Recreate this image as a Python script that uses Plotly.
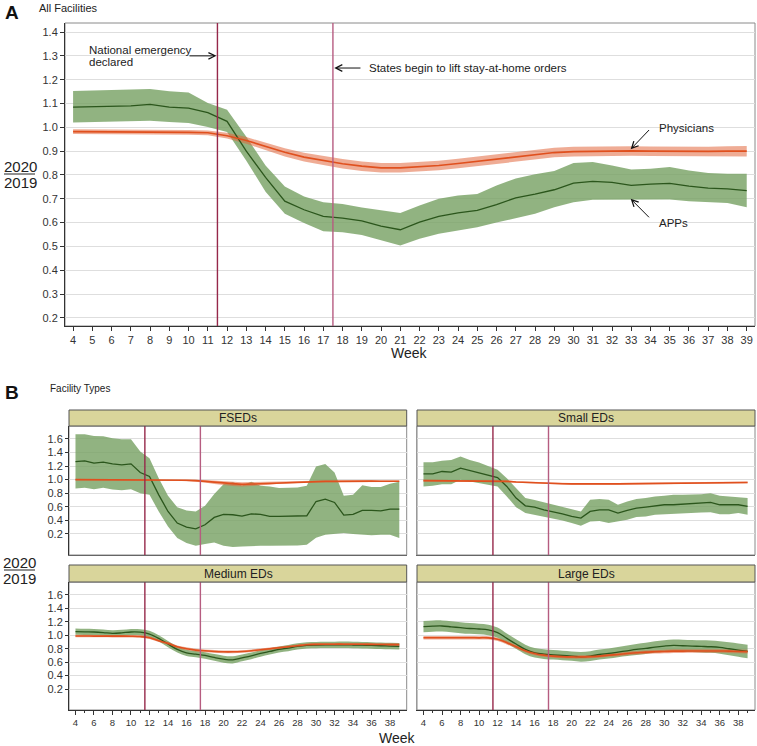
import plotly.graph_objects as go

weeks = list(range(4, 40))

# ---------- Panel A : All facilities ----------
all_apps_mid = [1.085, 1.087, 1.09, 1.09, 1.096, 1.085, 1.081, 1.062, 1.025, 0.90, 0.79, 0.69,
                0.654, 0.626, 0.619, 0.607, 0.585, 0.57, 0.602, 0.626, 0.641, 0.651, 0.676, 0.704,
                0.72, 0.738, 0.766, 0.773, 0.769, 0.756, 0.762, 0.765, 0.753, 0.745, 0.742, 0.734]
all_apps_hi = [1.153, 1.155, 1.157, 1.158, 1.161, 1.152, 1.146, 1.102, 1.074, 0.96, 0.84, 0.752,
               0.71, 0.686, 0.678, 0.663, 0.651, 0.64, 0.672, 0.70, 0.714, 0.72, 0.756, 0.785,
               0.803, 0.817, 0.85, 0.854, 0.84, 0.823, 0.826, 0.833, 0.819, 0.808, 0.805, 0.805]
all_apps_lo = [1.02, 1.022, 1.025, 1.025, 1.028, 1.022, 1.018, 1.001, 0.98, 0.86, 0.73, 0.637,
               0.598, 0.564, 0.56, 0.548, 0.525, 0.504, 0.532, 0.553, 0.567, 0.581, 0.60, 0.62,
               0.637, 0.665, 0.686, 0.696, 0.697, 0.697, 0.696, 0.697, 0.69, 0.686, 0.682, 0.665]
all_phys_mid = [0.982, 0.982, 0.981, 0.981, 0.980, 0.980, 0.979, 0.977, 0.965, 0.945, 0.92, 0.895,
                0.875, 0.86, 0.847, 0.837, 0.83, 0.83, 0.834, 0.84, 0.848, 0.857, 0.866, 0.876,
                0.886, 0.894, 0.898, 0.9, 0.901, 0.901, 0.9, 0.899, 0.898, 0.899, 0.9, 0.9]
all_phys_hi = [0.992, 0.992, 0.991, 0.991, 0.990, 0.990, 0.989, 0.987, 0.977, 0.959, 0.936, 0.912,
               0.893, 0.879, 0.867, 0.857, 0.85, 0.85, 0.854, 0.86, 0.868, 0.877, 0.886, 0.896,
               0.906, 0.914, 0.918, 0.92, 0.921, 0.921, 0.92, 0.919, 0.918, 0.919, 0.921, 0.922]
all_phys_lo = [0.972, 0.972, 0.971, 0.971, 0.970, 0.970, 0.969, 0.967, 0.953, 0.931, 0.904, 0.878,
               0.857, 0.841, 0.827, 0.817, 0.81, 0.81, 0.814, 0.82, 0.828, 0.837, 0.846, 0.856,
               0.866, 0.874, 0.878, 0.88, 0.881, 0.881, 0.88, 0.879, 0.878, 0.879, 0.879, 0.878]

# ---------- Panel B : FSEDs ----------
fsed_apps_mid = [1.266, 1.276, 1.242, 1.257, 1.232, 1.218, 1.232, 1.105, 1.046, 0.776, 0.531, 0.36,
                 0.30, 0.276, 0.335, 0.443, 0.487, 0.483, 0.463, 0.497, 0.487, 0.458, 0.458, 0.46,
                 0.468, 0.468, 0.678, 0.713, 0.664, 0.478, 0.487, 0.546, 0.546, 0.54, 0.566, 0.566]
fsed_apps_hi = [1.669, 1.669, 1.644, 1.64, 1.61, 1.595, 1.595, 1.413, 1.316, 1.02, 0.762, 0.595,
                0.546, 0.531, 0.615, 0.79, 0.933, 0.963, 0.913, 0.968, 0.91, 0.90, 0.875, 0.88,
                0.885, 0.91, 1.193, 1.232, 1.105, 0.762, 0.776, 0.919, 0.89, 0.89, 0.938, 0.968]
fsed_apps_lo = [0.87, 0.88, 0.86, 0.88, 0.855, 0.845, 0.86, 0.80, 0.776, 0.531, 0.31, 0.14,
                0.066, 0.026, 0.051, 0.075, 0.026, 0.007, 0.016, 0.026, 0.026, 0.026, 0.026, 0.026,
                0.03, 0.04, 0.145, 0.188, 0.20, 0.213, 0.20, 0.188, 0.18, 0.188, 0.188, 0.14]
fsed_phys_mid = [1.0, 1.0, 1.0, 1.0, 1.0, 1.0, 1.0, 1.0, 1.0, 1.0, 0.998, 0.995,
                 0.99, 0.985, 0.975, 0.96, 0.945, 0.935, 0.93, 0.935, 0.94, 0.95, 0.96, 0.965,
                 0.97, 0.975, 0.975, 0.975, 0.975, 0.978, 0.978, 0.978, 0.978, 0.976, 0.976, 0.976]
fsed_phys_hi = [1.01, 1.01, 1.01, 1.01, 1.01, 1.01, 1.01, 1.01, 1.01, 1.01, 1.009, 1.007,
                1.003, 1.0, 0.994, 0.985, 0.972, 0.965, 0.962, 0.965, 0.968, 0.975, 0.982, 0.983,
                0.985, 0.988, 0.987, 0.987, 0.987, 0.99, 0.99, 0.99, 0.99, 0.988, 0.988, 0.988]
fsed_phys_lo = [0.99, 0.99, 0.99, 0.99, 0.99, 0.99, 0.99, 0.99, 0.99, 0.99, 0.987, 0.983,
                0.977, 0.97, 0.956, 0.935, 0.918, 0.905, 0.898, 0.905, 0.912, 0.925, 0.938, 0.947,
                0.955, 0.962, 0.963, 0.963, 0.963, 0.966, 0.966, 0.966, 0.966, 0.964, 0.964, 0.964]

# ---------- Small EDs ----------
small_apps_mid = [1.085, 1.085, 1.12, 1.11, 1.169, 1.134, 1.095, 1.06, 1.031, 0.90, 0.728, 0.615,
                  0.595, 0.556, 0.531, 0.497, 0.458, 0.434, 0.531, 0.556, 0.556, 0.507, 0.546, 0.58,
                  0.595, 0.615, 0.63, 0.63, 0.64, 0.645, 0.654, 0.664, 0.63, 0.625, 0.63, 0.605]
small_apps_hi = [1.257, 1.257, 1.28, 1.29, 1.34, 1.29, 1.253, 1.203, 1.144, 1.022, 0.875, 0.728,
                 0.70, 0.664, 0.63, 0.595, 0.556, 0.531, 0.703, 0.713, 0.703, 0.63, 0.678, 0.713,
                 0.728, 0.752, 0.762, 0.776, 0.776, 0.776, 0.786, 0.80, 0.762, 0.752, 0.742, 0.728]
small_apps_lo = [0.90, 0.91, 0.933, 0.933, 0.997, 0.972, 0.948, 0.923, 0.90, 0.752, 0.595, 0.507,
                 0.482, 0.458, 0.434, 0.399, 0.36, 0.32, 0.384, 0.39, 0.36, 0.384, 0.41, 0.448,
                 0.458, 0.482, 0.49, 0.495, 0.507, 0.507, 0.517, 0.52, 0.49, 0.49, 0.507, 0.482]
small_phys_mid = [0.985, 0.985, 0.985, 0.985, 0.985, 0.985, 0.985, 0.985, 0.98, 0.975, 0.965, 0.958,
                  0.952, 0.948, 0.943, 0.94, 0.937, 0.935, 0.935, 0.936, 0.937, 0.938, 0.94, 0.942,
                  0.945, 0.948, 0.95, 0.952, 0.953, 0.954, 0.955, 0.956, 0.957, 0.958, 0.958, 0.958]
small_phys_hi = [0.997, 0.997, 0.997, 0.997, 0.997, 0.997, 0.997, 0.997, 0.992, 0.987, 0.977, 0.97,
                 0.964, 0.961, 0.956, 0.953, 0.95, 0.948, 0.948, 0.949, 0.95, 0.951, 0.953, 0.955,
                 0.958, 0.961, 0.963, 0.965, 0.966, 0.967, 0.968, 0.969, 0.97, 0.971, 0.971, 0.971]
small_phys_lo = [0.973, 0.973, 0.973, 0.973, 0.973, 0.973, 0.973, 0.973, 0.968, 0.963, 0.953, 0.946,
                 0.94, 0.935, 0.93, 0.927, 0.924, 0.922, 0.922, 0.923, 0.924, 0.925, 0.927, 0.929,
                 0.932, 0.935, 0.937, 0.939, 0.94, 0.941, 0.942, 0.943, 0.944, 0.945, 0.945, 0.945]

# ---------- Medium EDs ----------
med_apps_mid = [1.053, 1.05, 1.048, 1.04, 1.028, 1.035, 1.048, 1.045, 1.018, 0.953, 0.869, 0.789,
                0.739, 0.719, 0.70, 0.67, 0.645, 0.635, 0.664, 0.694, 0.729, 0.759, 0.789, 0.809,
                0.834, 0.849, 0.854, 0.856, 0.856, 0.857, 0.855, 0.852, 0.849, 0.844, 0.839, 0.835]
med_apps_hi = [1.10, 1.095, 1.093, 1.085, 1.073, 1.08, 1.093, 1.09, 1.065, 1.0, 0.915, 0.835,
               0.785, 0.765, 0.748, 0.72, 0.697, 0.688, 0.715, 0.743, 0.776, 0.805, 0.834, 0.855,
               0.88, 0.895, 0.9, 0.902, 0.903, 0.905, 0.903, 0.9, 0.897, 0.892, 0.887, 0.883]
med_apps_lo = [1.006, 1.005, 1.003, 0.995, 0.983, 0.99, 1.003, 1.0, 0.971, 0.906, 0.823, 0.743,
               0.693, 0.673, 0.652, 0.62, 0.593, 0.582, 0.613, 0.645, 0.682, 0.713, 0.744, 0.763,
               0.788, 0.803, 0.808, 0.81, 0.809, 0.809, 0.807, 0.804, 0.801, 0.796, 0.791, 0.787]
med_phys_mid = [0.988, 0.988, 0.987, 0.987, 0.986, 0.986, 0.985, 0.98, 0.963, 0.918, 0.879, 0.829,
                0.80, 0.779, 0.769, 0.759, 0.754, 0.754, 0.759, 0.769, 0.784, 0.80, 0.814, 0.829,
                0.844, 0.859, 0.864, 0.866, 0.867, 0.867, 0.866, 0.865, 0.864, 0.862, 0.861, 0.86]
med_phys_hi = [1.006, 1.006, 1.005, 1.005, 1.004, 1.004, 1.003, 0.998, 0.981, 0.937, 0.898, 0.848,
               0.82, 0.799, 0.789, 0.779, 0.774, 0.774, 0.778, 0.788, 0.803, 0.818, 0.832, 0.847,
               0.862, 0.877, 0.882, 0.884, 0.885, 0.885, 0.884, 0.883, 0.882, 0.88, 0.879, 0.878]
med_phys_lo = [0.97, 0.97, 0.969, 0.969, 0.968, 0.968, 0.967, 0.962, 0.945, 0.899, 0.86, 0.81,
               0.78, 0.759, 0.749, 0.739, 0.734, 0.734, 0.74, 0.75, 0.765, 0.782, 0.796, 0.811,
               0.826, 0.841, 0.846, 0.848, 0.849, 0.849, 0.848, 0.847, 0.846, 0.844, 0.843, 0.842]

# ---------- Large EDs ----------
large_apps_mid = [1.127, 1.135, 1.137, 1.125, 1.112, 1.1, 1.092, 1.078, 1.038, 0.953, 0.869, 0.789,
                  0.739, 0.719, 0.709, 0.70, 0.69, 0.68, 0.69, 0.714, 0.729, 0.749, 0.769, 0.789,
                  0.804, 0.824, 0.839, 0.849, 0.844, 0.839, 0.834, 0.829, 0.819, 0.799, 0.779, 0.759]
large_apps_hi = [1.21, 1.218, 1.22, 1.207, 1.193, 1.18, 1.17, 1.155, 1.113, 1.025, 0.94, 0.86,
                 0.81, 0.79, 0.78, 0.77, 0.76, 0.752, 0.762, 0.787, 0.804, 0.826, 0.848, 0.87,
                 0.887, 0.909, 0.925, 0.936, 0.932, 0.928, 0.924, 0.92, 0.912, 0.895, 0.877, 0.86]
large_apps_lo = [1.044, 1.052, 1.054, 1.043, 1.031, 1.02, 1.014, 1.001, 0.963, 0.881, 0.798, 0.718,
                 0.668, 0.648, 0.638, 0.63, 0.62, 0.608, 0.618, 0.641, 0.654, 0.672, 0.69, 0.708,
                 0.721, 0.739, 0.753, 0.762, 0.756, 0.75, 0.744, 0.738, 0.726, 0.703, 0.681, 0.658]
large_phys_mid = [0.963, 0.963, 0.963, 0.963, 0.962, 0.962, 0.961, 0.96, 0.939, 0.889, 0.829, 0.769,
                  0.729, 0.704, 0.69, 0.682, 0.678, 0.678, 0.682, 0.69, 0.704, 0.714, 0.729, 0.739,
                  0.749, 0.754, 0.759, 0.764, 0.764, 0.766, 0.766, 0.766, 0.766, 0.764, 0.76, 0.756]
large_phys_hi = [0.988, 0.988, 0.988, 0.988, 0.987, 0.987, 0.986, 0.985, 0.964, 0.914, 0.854, 0.794,
                 0.754, 0.729, 0.715, 0.707, 0.703, 0.703, 0.707, 0.715, 0.729, 0.739, 0.754, 0.764,
                 0.775, 0.78, 0.786, 0.791, 0.791, 0.793, 0.793, 0.793, 0.793, 0.791, 0.787, 0.783]
large_phys_lo = [0.938, 0.938, 0.938, 0.938, 0.937, 0.937, 0.936, 0.935, 0.914, 0.864, 0.804, 0.744,
                 0.704, 0.679, 0.665, 0.657, 0.653, 0.653, 0.657, 0.665, 0.679, 0.689, 0.704, 0.714,
                 0.723, 0.728, 0.732, 0.737, 0.737, 0.739, 0.739, 0.739, 0.739, 0.737, 0.733, 0.729]

event_weeks = [11.5, 17.5]
event_colors = ["#96284a", "#b65c80"]
top_ticks = [0.2, 0.3, 0.4, 0.5, 0.6, 0.7, 0.8, 0.9, 1.0, 1.1, 1.2, 1.3, 1.4]
panel_ticks = [0.2, 0.4, 0.6, 0.8, 1.0, 1.2, 1.4, 1.6]
panel_xticks = list(range(4, 39, 2))
panel_names = ["FSEDs", "Small EDs", "Medium EDs", "Large EDs"]

GREEN_FILL = "rgba(118,160,98,0.80)"
GREEN_LINE = "#2b561c"
ORANGE_FILL = "rgba(226,104,62,0.55)"
ORANGE_LINE = "#e0501e"
FONT = "Liberation Sans, Arial, sans-serif"
W, H = 757, 746


def px(x):
    return x / W


def py(y):
    return 1 - y / H


fig = go.Figure()


def add_panel(xa, ya, a_lo, a_mid, a_hi, p_lo, p_mid, p_hi, shape="linear"):
    common = dict(x=weeks, xaxis=xa, yaxis=ya, mode="lines", hoverinfo="skip", showlegend=False)
    fig.add_trace(go.Scatter(y=a_hi, line=dict(width=0, shape=shape), **common))
    fig.add_trace(go.Scatter(y=a_lo, line=dict(width=0, shape=shape), fill="tonexty",
                             fillcolor=GREEN_FILL, **common))
    fig.add_trace(go.Scatter(y=p_hi, line=dict(width=0, shape=shape), **common))
    fig.add_trace(go.Scatter(y=p_lo, line=dict(width=0, shape=shape), fill="tonexty",
                             fillcolor=ORANGE_FILL, **common))
    fig.add_trace(go.Scatter(y=a_mid, line=dict(width=1.3, color=GREEN_LINE, shape=shape), **common))
    fig.add_trace(go.Scatter(y=p_mid, line=dict(width=1.6, color=ORANGE_LINE, shape=shape), **common))


add_panel("x", "y", all_apps_lo, all_apps_mid, all_apps_hi, all_phys_lo, all_phys_mid, all_phys_hi)
add_panel("x2", "y2", fsed_apps_lo, fsed_apps_mid, fsed_apps_hi, fsed_phys_lo, fsed_phys_mid, fsed_phys_hi)
add_panel("x3", "y3", small_apps_lo, small_apps_mid, small_apps_hi, small_phys_lo, small_phys_mid, small_phys_hi)
add_panel("x4", "y4", med_apps_lo, med_apps_mid, med_apps_hi, med_phys_lo, med_phys_mid, med_phys_hi, "spline")
add_panel("x5", "y5", large_apps_lo, large_apps_mid, large_apps_hi, large_phys_lo, large_phys_mid, large_phys_hi, "spline")

AX = "#333333"
GRID = "#dedede"
tickfont_top = dict(family=FONT, size=11, color=AX)
tickfont_bot = dict(family=FONT, size=11, color=AX)

layout = dict(
    width=W, height=H, margin=dict(l=0, r=0, t=0, b=0, autoexpand=False),
    paper_bgcolor="white", plot_bgcolor="white",
    font=dict(family=FONT, color="#222"),
    showlegend=False,
    xaxis=dict(domain=[px(65), px(755)], range=[3.58, 39.43], tickvals=weeks,
               ticks="outside", ticklen=4, tickcolor=AX, showline=True, linecolor=AX,
               showgrid=False, zeroline=False, tickfont=tickfont_top, anchor="y", automargin=False),
    yaxis=dict(domain=[py(326), py(23)], range=[0.166, 1.438], tickvals=top_ticks,
               tickformat=".1f", ticks="outside", ticklen=4, tickcolor=AX, showline=True,
               linecolor=AX, showgrid=True, gridcolor=GRID, zeroline=False,
               tickfont=tickfont_top, anchor="x", automargin=False),
)

pan_dom = {
    2: ([px(69), px(406.7)], [py(555), py(426)]),
    3: ([px(417), px(755)], [py(555), py(426)]),
    4: ([px(69), px(406.7)], [py(710), py(582)]),
    5: ([px(417), px(755)], [py(710), py(582)]),
}
for i, (xd, yd) in pan_dom.items():
    bottom = i in (4, 5)
    left = i in (2, 4)
    xa = dict(
        domain=xd, range=[3.3, 39.8], anchor="y%d" % i,
        tickvals=panel_xticks if bottom else [], ticks="outside" if bottom else "",
        ticklen=4, tickcolor=AX, showticklabels=bottom,
        showline=True, linecolor=AX if bottom else "#666", showgrid=False, zeroline=False,
        tickfont=dict(family=FONT, size=9.5, color=AX), automargin=False)
    if bottom:
        xa["minor"] = dict(tickvals=weeks, ticks="outside", ticklen=2, tickcolor=AX, showgrid=False)
    layout["xaxis%d" % i] = xa
    layout["yaxis%d" % i] = dict(
        domain=yd, range=[-0.11, 1.79], anchor="x%d" % i, tickvals=panel_ticks,
        tickformat=".1f", ticks="outside" if left else "", ticklen=3, tickcolor=AX,
        showticklabels=left, showline=True, linecolor=AX if left else "#999",
        showgrid=True, gridcolor=GRID, zeroline=False, tickfont=tickfont_bot, automargin=False)
fig.update_layout(**layout)

shapes = []
# borders
for xr, yr in [("x", "y"), ("x2", "y2"), ("x3", "y3"), ("x4", "y4"), ("x5", "y5")]:
    shapes.append(dict(type="rect", xref=xr + " domain", yref=yr + " domain", x0=0, x1=1, y0=0, y1=1,
                       line=dict(color="#8a8a8a", width=1), layer="below"))
# event lines
for xr, yr in [("x", "y"), ("x2", "y2"), ("x3", "y3"), ("x4", "y4"), ("x5", "y5")]:
    for wk, col in zip(event_weeks, event_colors):
        shapes.append(dict(type="line", xref=xr, yref=yr + " domain", x0=wk, x1=wk, y0=0, y1=1,
                           line=dict(color=col, width=1.4)))
# strips
strip_boxes = [(69, 406.7, 410, 426), (417, 755, 410, 426), (69, 406.7, 565, 582), (417, 755, 565, 582)]
for (x0, x1, y0, y1) in strip_boxes:
    shapes.append(dict(type="rect", xref="paper", yref="paper", x0=px(x0), x1=px(x1),
                       y0=py(y1), y1=py(y0), fillcolor="#d9d59b",
                       line=dict(color="#555555", width=1)))
# fraction bars
for yb in (174, 570):
    shapes.append(dict(type="line", xref="paper", yref="paper", x0=px(4), x1=px(35),
                       y0=py(yb), y1=py(yb), line=dict(color="#222", width=1)))
fig.update_layout(shapes=shapes)

ann = []


def text(x, y, s, size=11, xanchor="left", bold=False, color="#222"):
    ann.append(dict(x=px(x), y=py(y), xref="paper", yref="paper", text=("<b>%s</b>" % s) if bold else s,
                    showarrow=False, xanchor=xanchor, yanchor="middle",
                    font=dict(family=FONT, size=size, color=color)))


text(3, 12, "A", 19, bold=True, color="#111")
text(37, 8, "All Facilities", 11)
text(3, 392, "B", 19, bold=True, color="#111")
text(48, 388, "Facility Types", 10)
text(409, 353, "Week", 14, xanchor="center")
text(397, 738, "Week", 14, xanchor="center")
text(20, 166, "2020", 15, xanchor="center")
text(20, 182.5, "2019", 15, xanchor="center")
text(19, 562, "2020", 15, xanchor="center")
text(19, 578.5, "2019", 15, xanchor="center")
text(87, 50.5, "National emergency", 11.5)
text(87, 62, "declared", 11.5)
text(367, 68, "States begin to lift stay-at-home orders", 11.5)
text(657, 127.5, "Physicians", 11.5)
text(657, 222.5, "APPs", 11.5)
for (cx, cy), name in zip([(238, 418), (586, 418), (238, 573.5), (586, 573.5)], panel_names):
    text(cx, cy, name, 12, xanchor="center")

arrows = [
    (11.45, 1.3, 9.97, 1.3),
    (17.57, 1.249, 19.01, 1.249),
    (32.97, 0.908, 34.0, 0.995),
    (32.97, 0.700, 34.0, 0.616),
]
for (hx, hy, tx, ty) in arrows:
    ann.append(dict(x=hx, y=hy, xref="x", yref="y", ax=tx, ay=ty, axref="x", ayref="y",
                    text="", showarrow=True, arrowhead=5, arrowsize=1.3, arrowwidth=1,
                    arrowcolor="#111"))
fig.update_layout(annotations=ann)

fig.write_html("out.html", config={"displayModeBar": False, "staticPlot": True},
               post_script="document.body.style.margin='0px';document.body.style.overflow='hidden';")
